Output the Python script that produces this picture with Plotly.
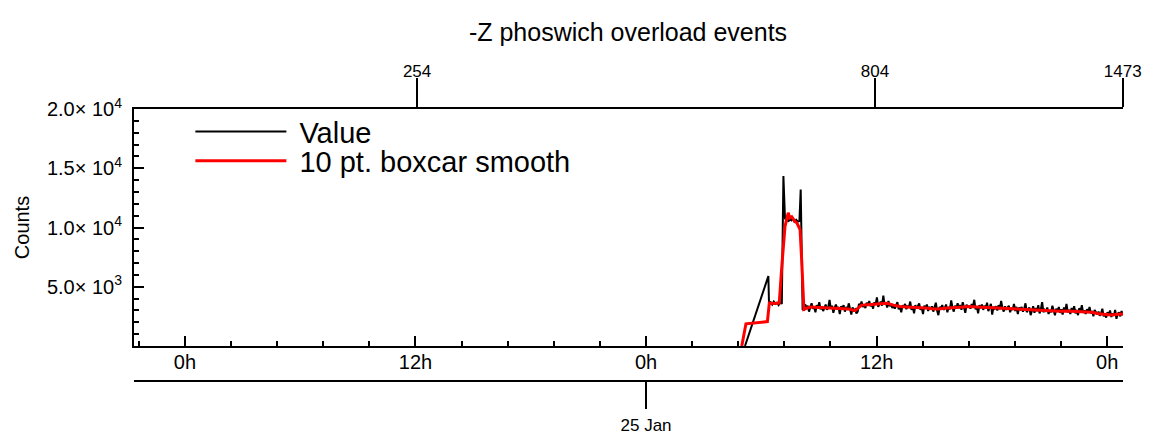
import pandas as pd
import plotly.graph_objects as go

# ---------------- data ----------------
# "Value" series: sparse early samples (25 Jan)
value_early_times = ["2020-01-25 05:09", "2020-01-25 06:22", "2020-01-25 06:24", "2020-01-25 06:29",
                     "2020-01-25 06:34", "2020-01-25 06:39", "2020-01-25 06:44", "2020-01-25 06:49",
                     "2020-01-25 06:54", "2020-01-25 06:59", "2020-01-25 07:04", "2020-01-25 07:09",
                     "2020-01-25 07:14", "2020-01-25 07:19", "2020-01-25 07:24", "2020-01-25 07:29",
                     "2020-01-25 07:34", "2020-01-25 07:39", "2020-01-25 07:44", "2020-01-25 07:49",
                     "2020-01-25 07:54", "2020-01-25 07:59", "2020-01-25 08:03", "2020-01-25 08:09"]
value_early = [0, 5900, 3600, 3700, 3500, 3750, 3550, 3650, 3450, 3700, 3550, 14350,
               10700, 10800, 10500, 10700, 10600, 10750, 10450, 10650, 10500, 10550, 13200, 3100]

# "Value" series: regularly sampled part (every 4 minutes from 08:13 on 25 Jan)
value_dense_start = "2020-01-25 08:13"
value_dense_step = "4min"
value_dense = [
    3050, 3520, 3180, 3400, 2900, 3350, 3600, 3150, 3300, 2850,
    3450, 3200, 3700, 3100, 3350, 2950, 3300, 3500, 3050, 3250,
    3900, 3150, 3400, 2800, 3250, 3500, 3100, 3300, 2700, 3350,
    3200, 3450, 2900, 3300, 3050, 3600, 3150, 2650, 3250, 3000,
    3100, 2750, 2900, 3550, 3400, 3750, 3300, 3500, 3200, 3650,
    3400, 3800, 3350, 3600, 3150, 3700, 3500, 4100, 3300, 3550,
    3750, 3400, 4250, 3500, 3650, 3250, 3800, 3350, 3600, 3200,
    3500, 3150, 3400, 3700, 3100, 3350, 2850, 3450, 3250, 3550,
    3100, 3400, 3250, 3750, 3050, 3300, 2750, 3450, 3150, 3350,
    3600, 3050, 3250, 2700, 3400, 3150, 3500, 2950, 3300, 3100,
    3350, 2900, 3200, 3650, 3000, 2600, 3300, 3150, 3450, 3050,
    3200, 3500, 2850, 3300, 3100, 3850, 3250, 2900, 3400, 3150,
    3600, 3200, 3450, 3050, 3700, 3300, 2800, 3500, 3250, 3400,
    3150, 3550, 3300, 3900, 3100, 3350, 2750, 3450, 3200, 3500,
    3050, 3400, 3200, 3650, 2950, 3250, 3550, 2650, 3300, 3150,
    3350, 3000, 3450, 3100, 3800, 3200, 2900, 3350, 3050, 3250,
    3400, 2850, 3200, 3050, 3550, 2950, 3300, 2700, 3250, 3100,
    3300, 2900, 3150, 3600, 2850, 3050, 3250, 2600, 3100, 3350,
    2800, 3200, 2950, 3450, 2750, 3100, 3700, 2850, 3050, 2900,
    3250, 2700, 3000, 2850, 3400, 2950, 2600, 3150, 2900, 3300,
    2800, 3100, 2650, 3250, 2950, 3550, 2850, 3050, 2700, 3200,
    2950, 3350, 2750, 3050, 2600, 3200, 2900, 3450, 2800, 3000,
    2700, 3100, 2850, 3300, 2750, 2950, 2500, 3050, 2800, 2650,
    2900, 2550, 2750, 3150, 2500, 2700, 2400, 2850, 2600, 3000,
    2450, 2750, 2550, 3050, 2300, 2700, 2850, 2500, 2950, 2600,
]

# "10 pt. boxcar smooth" series
smooth_early_times = ["2020-01-25 04:59", "2020-01-25 05:12", "2020-01-25 06:19", "2020-01-25 06:25",
                      "2020-01-25 06:40", "2020-01-25 06:56", "2020-01-25 07:04", "2020-01-25 07:14",
                      "2020-01-25 07:24", "2020-01-25 07:29", "2020-01-25 07:35", "2020-01-25 07:45",
                      "2020-01-25 07:51", "2020-01-25 08:01", "2020-01-25 08:06"]
smooth_early = [0, 1870, 2060, 3620, 3580, 3620, 6720, 10100, 11240, 10800, 10900, 10500,
                10400, 9830, 7290]
smooth_dense_start = "2020-01-25 08:13"
smooth_dense_step = "20min"
smooth_dense = [
    3100, 3300, 3280, 3250, 3230, 3200, 3170, 3120, 2980, 3450,
    3480, 3520, 3560, 3600, 3450, 3330, 3300, 3280, 3250, 3200,
    3150, 3120, 3180, 3230, 3280, 3300, 3330, 3300, 3270, 3230,
    3200, 3190, 3170, 3120, 3080, 3050, 3020, 2980, 2950, 2940,
    2930, 2950, 2930, 2910, 2900, 2850, 2720, 2650, 2620, 2680,
    2700,
]

# axes
x_range = ["2020-01-23 21:21", "2020-01-26 00:49:30"]
y_range = [0, 20000]
y_tick_vals = [5000, 10000, 15000, 20000]
y_tick_text = ["5.0× 10<sup>3</sup>", "1.0× 10<sup>4</sup>", "1.5× 10<sup>4</sup>", "2.0× 10<sup>4</sup>"]
hour_tick_times = ["2020-01-24 00:00", "2020-01-24 12:00", "2020-01-25 00:00",
                   "2020-01-25 12:00", "2020-01-26 00:00"]
hour_tick_text = ["0h", "12h", "0h", "12h", "0h"]
date_tick_times = ["2020-01-25 00:00"]
date_tick_text = ["25 Jan"]
top_tick_times = ["2020-01-24 12:05", "2020-01-25 11:55", "2020-01-26 00:48:30"]
top_tick_text = ["254", "804", "1473"]

# ---------------- build ----------------
value_dense_times = pd.date_range(value_dense_start, periods=len(value_dense), freq=value_dense_step)
smooth_dense_times = pd.date_range(smooth_dense_start, periods=len(smooth_dense), freq=smooth_dense_step)

value_x = list(pd.to_datetime(value_early_times)) + list(value_dense_times)
value_y = value_early + value_dense
smooth_x = list(pd.to_datetime(smooth_early_times)) + list(smooth_dense_times)
smooth_y = smooth_early + smooth_dense

FONT = "Liberation Sans, Arial, Helvetica, sans-serif"

fig = go.Figure()
fig.add_trace(go.Scatter(x=value_x, y=value_y, mode="lines", name="\u00a0Value",
                         line=dict(color="black", width=2), legend="legend"))
fig.add_trace(go.Scatter(x=smooth_x, y=smooth_y, mode="lines", name="\u00a010 pt. boxcar smooth",
                         line=dict(color="#ff0000", width=3), legend="legend2"))

# the page body has an 8px margin, so the figure is 8px smaller than the window
W, H = 1148, 434
mt, mb, ml, mr = 101, 61, 126, 33
paper_h = H - mt - mb            # 272
OFF = 8
plot_bottom_px = 346 - OFF
y_dom0 = (H - mb - plot_bottom_px) / paper_h


def paper_y(win_y):
    return 1 - (win_y - OFF - mt) / paper_h


legend_common = dict(xanchor="left", yanchor="middle", bgcolor="rgba(0,0,0,0)",
                     borderwidth=0, itemwidth=91, font=dict(size=29, family=FONT))

fig.update_layout(
    template="none",
    width=W, height=H,
    margin=dict(l=ml, r=mr, t=mt, b=mb, pad=0, autoexpand=False),
    paper_bgcolor="white", plot_bgcolor="white",
    font=dict(family=FONT, color="black", size=19),
    title=dict(text="-Z phoswich overload events", x=(628 - OFF) / W, xanchor="center",
               y=1 - (32 - OFF) / H, yanchor="middle", font=dict(size=25, family=FONT)),
    showlegend=True,
    legend=dict(x=0.057, y=paper_y(131.7), **legend_common),
    legend2=dict(x=0.057, y=paper_y(161), **legend_common),
    xaxis=dict(
        type="date", range=x_range, anchor="y", automargin=False,
        showline=True, linecolor="black", linewidth=2, mirror=False,
        showgrid=False, zeroline=False,
        tickmode="array", tickvals=hour_tick_times, ticktext=hour_tick_text,
        ticks="inside", ticklen=10, tickwidth=2, tickcolor="black",
        tickfont=dict(size=20), ticklabelstandoff=-3,
        minor=dict(ticks="inside", ticklen=5, tickwidth=2, tickcolor="black",
                   dtick=2.4 * 3600 * 1000, tick0="2020-01-24 00:00", showgrid=False),
    ),
    xaxis2=dict(
        type="date", range=x_range, overlaying="x", anchor="y", side="top", automargin=False,
        showline=True, linecolor="black", linewidth=2, showgrid=False, zeroline=False,
        tickmode="array", tickvals=top_tick_times, ticktext=top_tick_text,
        ticks="outside", ticklen=29, tickwidth=2, tickcolor="black",
        tickfont=dict(size=17), ticklabelstandoff=-6,
    ),
    xaxis3=dict(
        type="date", range=x_range, overlaying="x", anchor="free", position=0, side="bottom",
        automargin=False,
        showline=True, linecolor="black", linewidth=2, showgrid=False, zeroline=False,
        tickmode="array", tickvals=date_tick_times, ticktext=date_tick_text,
        ticks="outside", ticklen=27, tickwidth=2, tickcolor="black",
        tickfont=dict(size=17), ticklabelstandoff=2,
    ),
    yaxis=dict(
        range=y_range, domain=[y_dom0, 1], anchor="x", automargin=False,
        showline=True, linecolor="black", linewidth=2, showgrid=False, zeroline=False,
        tickmode="array", tickvals=y_tick_vals, ticktext=y_tick_text,
        ticks="inside", ticklen=10, tickwidth=2, tickcolor="black",
        tickfont=dict(size=20), ticklabelstandoff=6,
        minor=dict(ticks="inside", ticklen=5, tickwidth=2, tickcolor="black",
                   dtick=1000, tick0=0, showgrid=False),
        title=dict(text="Counts", font=dict(size=20), standoff=12),
    ),
)
# attach the extra x axes to a hidden carrier trace each so they render
fig.add_trace(go.Scatter(x=[value_x[0]], y=[None], xaxis="x2", yaxis="y",
                         showlegend=False, hoverinfo="skip"))
fig.add_trace(go.Scatter(x=[value_x[0]], y=[None], xaxis="x3", yaxis="y",
                         showlegend=False, hoverinfo="skip"))

fig.write_html("out.html")
